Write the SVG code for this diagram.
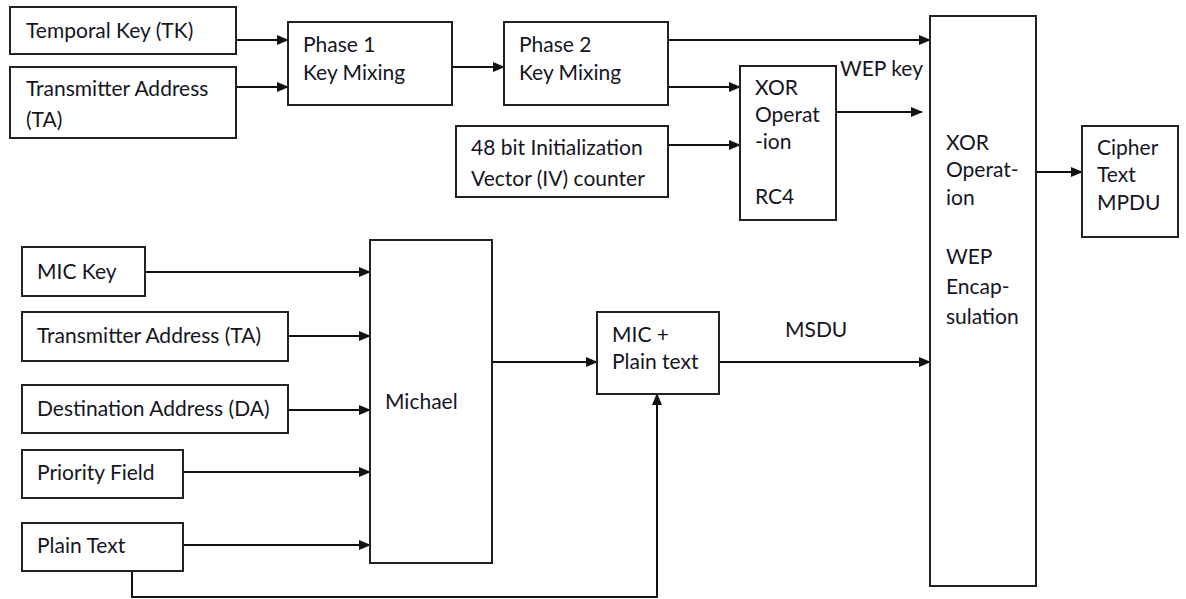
<svg xmlns="http://www.w3.org/2000/svg" width="1186" height="599" viewBox="0 0 1186 599">
<defs>
<marker id="arr" markerWidth="12" markerHeight="10" refX="11" refY="5" orient="auto" markerUnits="userSpaceOnUse">
<path d="M0,0 L12,5 L0,10 Z" fill="#111"/>
</marker>
<style>
rect{fill:#fff;stroke:#222;stroke-width:2}
text{font-family:Lato,"Open Sans",sans-serif;font-size:21px;fill:#15151f}
.c{fill:none;stroke:#111;stroke-width:2}
.a{marker-end:url(#arr)}
</style>
</defs>
<rect x="0" y="0" width="1186" height="599" style="fill:#fff;stroke:none"/>
<g id="connectors">
<line class="c a" x1="236" y1="40" x2="288" y2="40"/>
<line class="c a" x1="236" y1="87" x2="288" y2="87"/>
<line class="c a" x1="452" y1="67" x2="504" y2="67"/>
<line class="c a" x1="668" y1="40" x2="930" y2="40"/>
<line class="c a" x1="668" y1="87" x2="740" y2="87"/>
<line class="c a" x1="668" y1="145" x2="740" y2="145"/>
<line class="c a" x1="836" y1="112" x2="922" y2="112"/>
<line class="c a" x1="1036" y1="172" x2="1082" y2="172"/>
<line class="c a" x1="145" y1="272" x2="370" y2="272"/>
<line class="c a" x1="288" y1="336" x2="370" y2="336"/>
<line class="c a" x1="288" y1="410" x2="370" y2="410"/>
<line class="c a" x1="183" y1="472" x2="370" y2="472"/>
<line class="c a" x1="183" y1="545" x2="370" y2="545"/>
<line class="c a" x1="492" y1="362" x2="597" y2="362"/>
<line class="c a" x1="719" y1="362" x2="930" y2="362"/>
<polyline class="c a" points="132,571 132,597 657,597 657,394"/>
</g>
<g id="tk"><rect x="10" y="7" width="226" height="47"/><text x="26" y="38">Temporal Key (TK)</text></g>
<g id="ta1"><rect x="10" y="67" width="226" height="71"/><text x="26" y="96">Transmitter Address</text><text x="26" y="127">(TA)</text></g>
<g id="phase1"><rect x="288" y="22" width="164" height="83"/><text x="303" y="52">Phase 1</text><text x="303" y="80">Key Mixing</text></g>
<g id="phase2"><rect x="504" y="22" width="164" height="83"/><text x="519" y="52">Phase 2</text><text x="519" y="80">Key Mixing</text></g>
<g id="iv"><rect x="456" y="126" width="212" height="71"/><text x="471" y="155">48 bit Initialization</text><text x="471" y="186">Vector (IV) counter</text></g>
<g id="rc4"><rect x="740" y="66" width="96" height="154"/><text x="755" y="95">XOR</text><text x="755" y="122">Operat</text><text x="755" y="149">-ion</text><text x="755" y="204">RC4</text></g>
<g id="wepkey"><text x="840" y="76">WEP key</text></g>
<g id="wep"><rect x="930" y="16" width="106" height="570"/><text x="946" y="150">XOR</text><text x="946" y="177">Operat-</text><text x="946" y="205">ion</text><text x="946" y="264">WEP</text><text x="946" y="294">Encap-</text><text x="946" y="324">sulation</text></g>
<g id="cipher"><rect x="1082" y="126" width="96" height="111"/><text x="1097" y="155">Cipher</text><text x="1097" y="182">Text</text><text x="1097" y="210">MPDU</text></g>
<g id="mickey"><rect x="22" y="247" width="123" height="49"/><text x="37" y="279">MIC Key</text></g>
<g id="ta2"><rect x="22" y="312" width="266" height="49"/><text x="37" y="343">Transmitter Address (TA)</text></g>
<g id="da"><rect x="22" y="385" width="266" height="48"/><text x="37" y="416">Destination Address (DA)</text></g>
<g id="prio"><rect x="22" y="450" width="161" height="48"/><text x="37" y="480">Priority Field</text></g>
<g id="plain"><rect x="22" y="523" width="161" height="48"/><text x="37" y="553">Plain Text</text></g>
<g id="michael"><rect x="370" y="240" width="122" height="323"/><text x="385" y="409">Michael</text></g>
<g id="mic"><rect x="597" y="312" width="122" height="82"/><text x="612" y="342">MIC +</text><text x="612" y="369">Plain text</text></g>
<g id="msdu"><text x="785" y="337">MSDU</text></g>
</svg>
